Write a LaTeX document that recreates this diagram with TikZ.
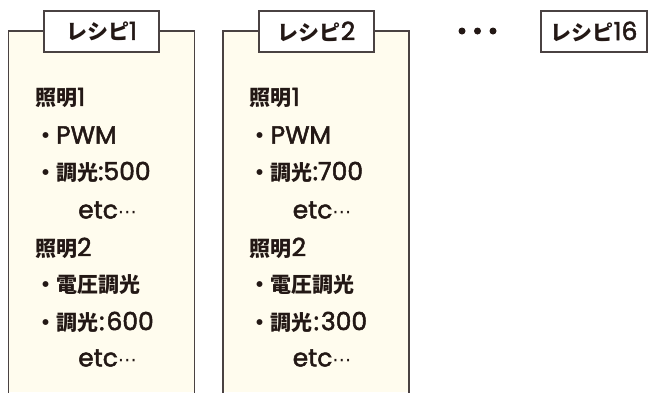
\documentclass[tikz,border=0pt]{standalone}
\usepackage{fontspec}
\newfontfamily\jp{Noto Sans CJK JP}
\newfontfamily\lat[FakeBold=2]{Poppins}
\newfontfamily\dv{DejaVu Sans}
\definecolor{cream}{HTML}{FFFCEE}
\definecolor{edge}{HTML}{4A4242}
\definecolor{ink}{HTML}{231815}
\newcommand{\lt}[1]{{\lat\mdseries\fontsize{25}{25}\selectfont #1}}
\newcommand{\etcdots}{\lt{etc}{\dv\mdseries\fontsize{19}{19}\selectfont ⋯}}
\tikzset{
  panel/.style={draw=edge, line width=1.1pt},
  tag/.style={draw=edge, fill=white, line width=1.1pt, minimum width=115pt, minimum height=41pt, inner sep=0pt, font=\jp\bfseries\fontsize{21}{21}\selectfont, text=ink},
  item/.style={anchor=west, inner sep=0pt, font=\jp\bfseries\fontsize{21}{21}\selectfont, text=ink},
  dot/.style={circle, fill=ink, inner sep=0pt, minimum size=7pt}
}
\begin{document}
\begin{tikzpicture}[x=1pt,y=-1pt]
\useasboundingbox (0,0) rectangle (648,392);
% panel 1
\fill[cream] (8.5,31) rectangle (194.5,392);
\draw[panel] (8.5,393) -- (8.5,31) -- (194.5,31) -- (194.5,393);
\node[tag] (t1) at (101.5,31.5) {レシピ\lt{1}};
\node[item] (a1) at (35,98) {照明\lt{1}};
\node[item] (a2) at (35,135) {・\lt{PWM}};
\node[item] (a3) at (35,172) {・調光\lt{:500}};
\node[item] (a4) at (78,210) {\etcdots};
\node[item] (a5) at (35,248) {照明\lt{2}};
\node[item] (a6) at (35,285) {・電圧調光};
\node[item] (a7) at (35,322) {・調光\lt{\kern1pt:\kern2pt600}};
\node[item] (a8) at (78,358) {\etcdots};
% panel 2
\fill[cream] (223,31) rectangle (409,392);
\draw[panel] (223,393) -- (223,31) -- (409,31) -- (409,393);
\node[tag] (t2) at (316.5,31.5) {レシピ\lt{2}};
\node[item] (b1) at (249.5,98) {照明\lt{1}};
\node[item] (b2) at (249.5,135) {・\lt{PWM}};
\node[item] (b3) at (249.5,172) {・調光\lt{:700}};
\node[item] (b4) at (292.5,210) {\etcdots};
\node[item] (b5) at (249.5,248) {照明\lt{2}};
\node[item] (b6) at (249.5,285) {・電圧調光};
\node[item] (b7) at (249.5,322) {・調光\lt{\kern1pt:\kern2pt300}};
\node[item] (b8) at (292.5,358) {\etcdots};
% dots and last tag
\node[dot] (d1) at (462,31) {};
\node[dot] (d2) at (477.5,31) {};
\node[dot] (d3) at (493,31) {};
\node[tag, minimum width=106pt] (t16) at (594,31.5) {レシピ\lt{16}};
\end{tikzpicture}
\end{document}
